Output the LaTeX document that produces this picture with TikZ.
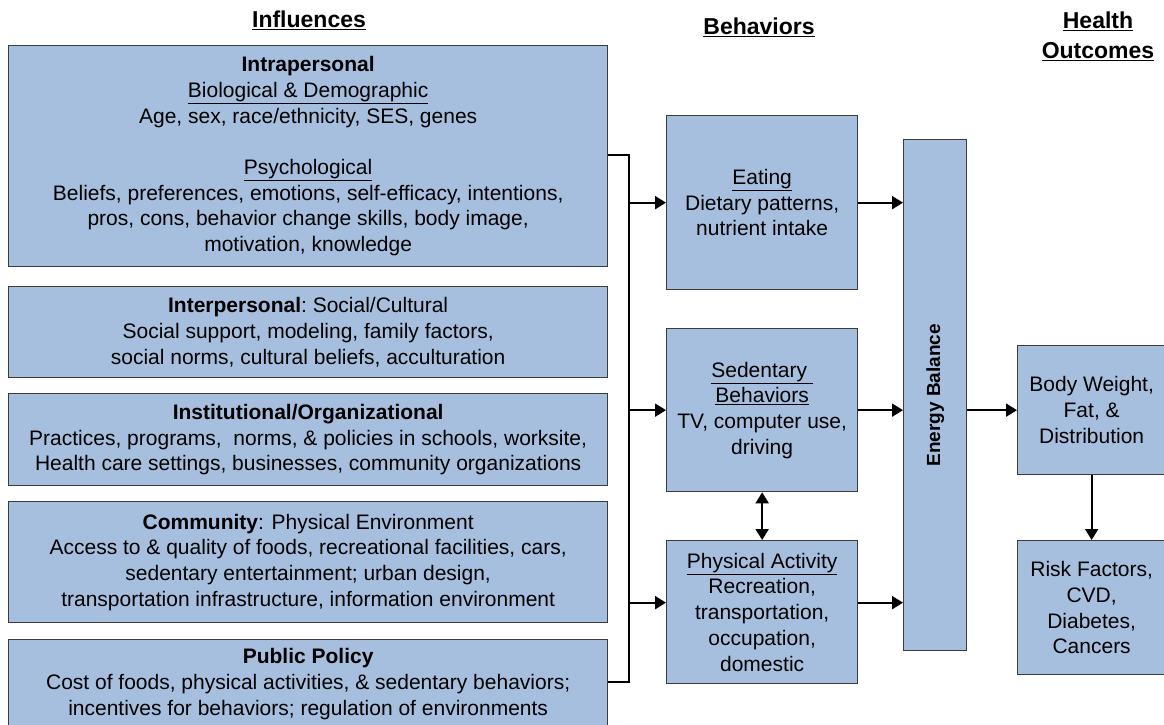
\documentclass[tikz,border=0pt]{standalone}
\usepackage{fontspec}
\setmainfont{Liberation Sans}
\usetikzlibrary{arrows.meta,calc}
\definecolor{boxfill}{RGB}{167,191,222}
\definecolor{boxline}{RGB}{60,60,60}
\begin{document}
\begin{tikzpicture}[x=1pt,y=-1pt,
  box/.style={draw=boxline, fill=boxfill, line width=1.3pt, inner sep=0pt, align=center, anchor=north west,
    font=\fontsize{21}{25.7}\selectfont},
  head/.style={font=\bfseries\fontsize{23}{30}\selectfont, align=center, inner sep=0pt},
  conn/.style={line width=2pt, draw=black},
  arr/.style={conn, -{Triangle[length=11pt,width=13pt]}},
  darr/.style={conn, {Triangle[length=11pt,width=13pt]}-{Triangle[length=11pt,width=13pt]}}
]
\useasboundingbox (0,0) rectangle (1164,725);

% headers
\node[head] (hinf) at (309,20) {\underline{Influences}};
\node[head] (hbeh) at (759,27) {\underline{Behaviors}};
\node[head] (hout) at (1098,36) {\underline{Health}\\\underline{Outcomes}};

% influence boxes
\node[box, minimum width=599pt, minimum height=221pt] (intra) at (8,45)
 {\textbf{Intrapersonal}\\\underline{Biological \& Demographic}\\Age, sex, race/ethnicity, SES, genes\\[25.7pt]
  \underline{Psychological}\\Beliefs, preferences, emotions, self-efficacy, intentions,\\
  pros, cons, behavior change skills, body image,\\motivation, knowledge};
\node[box, minimum width=599pt, minimum height=91pt] (inter) at (8,286)
 {\textbf{Interpersonal}:\ Social/Cultural\\Social support, modeling, family factors,\\social norms, cultural beliefs, acculturation};
\node[box, minimum width=599pt, minimum height=92pt] (inst) at (8,393)
 {\textbf{Institutional/Organizational}\\Practices, programs,\ \ norms, \& policies in schools, worksite,\\Health care settings, businesses, community organizations};
\node[box, minimum width=599pt, minimum height=121pt] (comm) at (8,501)
 {\textbf{Community}: Physical Environment\\Access to \& quality of foods, recreational facilities, cars,\\sedentary entertainment; urban design,\\transportation infrastructure, information environment};
\node[box, minimum width=599pt, minimum height=89pt] (pub) at (8,639)
 {\textbf{Public Policy}\\Cost of foods, physical activities, \& sedentary behaviors;\\incentives for behaviors; regulation of environments};

% behavior boxes
\node[box, minimum width=191pt, minimum height=174pt] (eat) at (666,115)
 {\underline{Eating}\\Dietary patterns,\\nutrient intake};
\node[box, minimum width=191pt, minimum height=163pt] (sed) at (666,328)
 {\underline{Sedentary\ }\\\underline{Behaviors}\\TV, computer use,\\driving};
\node[box, minimum width=191pt, minimum height=143pt] (pa) at (666,540)
 {\underline{Physical Activity}\\Recreation,\\transportation,\\occupation,\\domestic};

% energy balance
\node[box, minimum width=63pt, minimum height=511pt] (eb) at (903,139) {};
\node[rotate=90, font=\bfseries\fontsize{19}{22}\selectfont, inner sep=0pt] (ebt) at (eb.center) {Energy Balance};

% outcomes
\node[box, minimum width=148pt, minimum height=129pt] (body) at (1017,345)
 {Body Weight,\\Fat, \&\\Distribution};
\node[box, minimum width=148pt, minimum height=134pt] (risk) at (1017,540)
 {Risk Factors,\\CVD,\\Diabetes,\\Cancers};

% bracket / bus
\coordinate (bt) at (629,155);
\coordinate (bb) at (629,682);
\draw[conn] (intra.east |- bt) -- (bt) -- (bb) -- (pub.east |- bb);

% arrows into behaviors
\draw[arr] (bt |- eat.west) -- (eat.west);
\draw[arr] (bt |- sed.west) -- (sed.west);
\coordinate (paa) at ([yshift=9.5pt]pa.west);
\draw[arr] (bt |- paa) -- (paa);

% behaviors to energy balance
\draw[arr] (eat.east) -- (eat.east -| eb.west);
\draw[arr] (sed.east) -- (sed.east -| eb.west);
\coordinate (pae) at ([yshift=9.5pt]pa.east);
\draw[arr] (pae) -- (pae -| eb.west);

% sedentary <-> PA
\draw[darr] (sed.south) -- (pa.north);

% energy balance to outcomes
\draw[arr] (body.west -| eb.east) -- (body.west);
\draw[arr] (body.south) -- (risk.north);
\end{tikzpicture}
\end{document}
